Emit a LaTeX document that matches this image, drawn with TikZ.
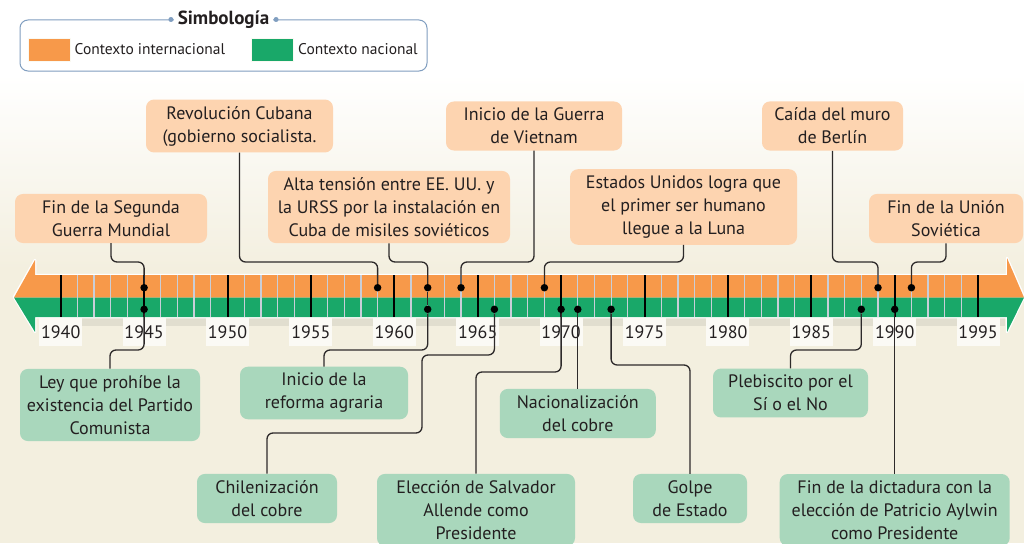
\documentclass[tikz,border=0pt]{standalone}
\usepackage{fontspec}
\setmainfont{PT Sans}
\usepackage{tikz}
\usetikzlibrary{calc,positioning}

\begin{document}
\begin{tikzpicture}[x=1pt,y=-1pt]
%% colors
\definecolor{bandorange}{RGB}{247,153,74}
\definecolor{bandgreen}{RGB}{25,168,105}
\definecolor{peach}{RGB}{253,212,176}
\definecolor{mint}{RGB}{169,215,188}
\definecolor{cream}{RGB}{243,239,223}
\definecolor{yearline}{RGB}{200,206,216}
\definecolor{legborder}{RGB}{128,158,192}
\definecolor{textcol}{RGB}{35,31,32}
\definecolor{linecol}{RGB}{45,42,42}
%% box and line styles
\tikzstyle{ibox}=[rounded corners=8pt,fill=peach,align=center,text=textcol,font=\fontsize{18}{23}\selectfont,inner xsep=5pt,inner ysep=6.5pt]
\tikzstyle{nbox}=[ibox,fill=mint]
\tikzstyle{dot}=[circle,fill=black,minimum size=7.5pt,inner sep=0pt]
\tikzstyle{conn}=[draw=linecol,line width=1.3pt,rounded corners=6pt]
\tikzstyle{ylabel}=[fill=white!70!cream,text=textcol,font=\fontsize{18}{20}\selectfont,minimum width=43pt,minimum height=28pt,inner sep=0pt]
\tikzstyle{swatch}=[minimum width=42pt,minimum height=23pt,inner sep=0pt,draw=white!60!cream]
\tikzstyle{ldot}=[circle,fill=legborder,minimum size=5pt,inner sep=0pt]

\useasboundingbox (0,0) rectangle (1024,543);
%BACKGROUND
\fill[cream] (0,0) rectangle (1024,543);
\fill[white] (0,0) rectangle (1024,75);
\shade[top color=white,bottom color=cream] (0,74) rectangle (1024,270);

%%%%%%%%%%%%%%%%%%%%%%%%%%%%%%%%%%%%%%%%%%%%%%%%%%%%%%%%%%%%%%%%%%%%%%%%
%LEGEND
\node[draw=legborder,line width=1pt,rounded corners=8pt,minimum width=407pt,minimum height=51pt] (legend) at (223.5,45.5) {};
\node[fill=white,inner xsep=4pt,inner ysep=1pt,text=textcol,font=\fontsize{19}{20}\selectfont\bfseries] (simb) at (legend.north) {Simbología};
\node[ldot,left=0pt of simb] (simbl) {};
\node[ldot,right=0pt of simb] (simbr) {};
\node[swatch,fill=bandorange] (swint) at (49,49.5) {};
\node[right=1pt of swint,text=textcol,font=\fontsize{15.5}{17}\selectfont] (txint) {Contexto internacional};
\node[swatch,fill=bandgreen] (swnac) at (272.5,49.5) {};
\node[right=1pt of swnac,text=textcol,font=\fontsize{15.5}{17}\selectfont] (txnac) {Contexto nacional};

%%%%%%%%%%%%%%%%%%%%%%%%%%%%%%%%%%%%%%%%%%%%%%%%%%%%%%%%%%%%%%%%%%%%%%%%
%TIMELINE
\fill[black,opacity=0.07] (40,317) rectangle (1005,326);
\draw[white,line width=2.5pt,line join=round] (14,297) -- (35,260) -- (35,275) -- (1007,275) -- (1007,258) -- (1024,297) -- (1007,332) -- (1007,317) -- (35,317) -- (35,332) -- cycle;
\fill[bandorange] (14,297.5) -- (35,260) -- (35,275) -- (1007,275) -- (1007,258) -- (1024,297.5) -- cycle;
\fill[bandgreen] (14,297.5) -- (35,332) -- (35,317) -- (1007,317) -- (1007,332) -- (1024,297.5) -- cycle;
% one line per year
\foreach \yr in {1941,...,1994}
  \draw[yearline,line width=1.3pt] ({60.7+16.68*(\yr-1940)},275) -- ++(0,42);
% five years
\foreach \yr in {1940,1945,...,1995}{
  \draw[black,line width=2pt] ({60.7+16.68*(\yr-1940)},275) -- ++(0,42);
  \node[ylabel] (y\yr) at ({60.7+16.68*(\yr-1940)},332) {\yr};
}

%%%%%%%%%%%%%%%%%%%%%%%%%%%%%%%%%%%%%%%%%%%%%%%%%%%%%%%%%%%%%%%%%%%%%%%%
%INTERNATIONAL
\node[ibox,minimum width=192pt] (fin45) at (111,218.5) {Fin de la Segunda\\Guerra Mundial};
\node[ibox,minimum width=187pt] (revcub) at (239.5,126) {Revolución Cubana\\(gobierno socialista.};
\node[ibox,minimum width=242pt] (misiles) at (389,207) {Alta tensión entre EE. UU. y\\la URSS por la instalación en\\Cuba de misiles soviéticos};
\node[ibox,minimum width=176pt] (vietnam) at (534,126) {Inicio de la Guerra\\de Vietnam};
\node[ibox,minimum width=227pt] (luna) at (683.5,207) {Estados Unidos logra que\\el primer ser humano\\llegue a la Luna};
\node[ibox,minimum width=141pt] (berlin) at (832.5,126) {Caída del muro\\de Berlín};
\node[ibox,minimum width=154pt] (urss) at (946,218.5) {Fin de la Unión\\Soviética};

%NATIONAL
\node[nbox,minimum width=180pt] (ley) at (110,405) {Ley que prohíbe la\\existencia del Partido\\Comunista};
\node[nbox,minimum width=168pt] (reforma) at (324,393) {Inicio de la\\reforma agraria};
\node[nbox,minimum width=140pt] (chile) at (267,498.5) {Chilenización\\del cobre};
\node[nbox,minimum width=198pt] (allende) at (476,510) {Elección de Salvador\\Allende como\\Presidente};
\node[nbox,minimum width=156pt] (nacio) at (577.8,413.5) {Nacionalización\\del cobre};
\node[nbox,minimum width=114pt] (golpe) at (690,498.5) {Golpe\\de Estado};
\node[nbox,minimum width=155pt] (pleb) at (790.5,393) {Plebiscito por el\\Sí o el No};
\node[nbox,minimum width=230pt] (dict) at (894.7,510) {Fin de la dictadura con la\\elección de Patricio Aylwin\\como Presidente};

%%%%%%%%%%%%%%%%%%%%%%%%%%%%%%%%%%%%%%%%%%%%%%%%%%%%%%%%%%%%%%%%%%%%%%%%
%DOTS
% orange band
\node[dot] (d45o) at (144.1,287.7) {};
\node[dot] (d59o) at (377.6,287.7) {};
\node[dot] (d62o) at (427.7,287.7) {};
\node[dot] (d64o) at (461.0,287.7) {};
\node[dot] (d69o) at (544.4,287.7) {};
\node[dot] (d89o) at (878.0,287.7) {};
\node[dot] (d91o) at (911.4,287.7) {};
% green band
\node[dot] (d45g) at (144.1,309.3) {};
\node[dot] (d62g) at (427.7,309.3) {};
\node[dot] (d66g) at (494.4,309.3) {};
\node[dot] (d70g) at (561.1,309.3) {};
\node[dot] (d71g) at (577.8,309.3) {};
\node[dot] (d73g) at (611.1,309.3) {};
\node[dot] (d88g) at (861.3,309.3) {};
\node[dot] (d90g) at (894.7,309.3) {};

% rails
\coordinate (railtop) at (0,262);
\coordinate (railbot) at (0,350);
\coordinate (railalle) at (0,372);
\coordinate (railgolpe) at (0,365);
\coordinate (chA) at (422,355);
\coordinate (chB) at (422,433);

%%%%%%%%%%%%%%%%%%%%%%%%%%%%%%%%%%%%%%%%%%%%%%%%%%%%%%%%%%%%%%
%CONNECTORS
% box -> orange dot
\draw[conn] (fin45) -- (fin45 |- railtop) -| (d45o);
\draw[conn] (revcub) -- (revcub |- railtop) -| (d59o);
\draw[conn] (misiles) -- (misiles |- railtop) -| (d62o);
\draw[conn] (vietnam) -- (vietnam |- railtop) -| (d64o);
\draw[conn] (luna) -- (luna |- railtop) -| (d69o);
\draw[conn] (berlin) -- (berlin |- railtop) -| (d89o);
\draw[conn] (urss) -- (urss |- railtop) -| (d91o);
\draw[conn] (d62o) -- (d62g);
% green dot -> box
\draw[conn] (d45g) -- (d45g |- railbot) -| (ley);
\draw[conn] (d62g) -- (d62g |- railbot) -| (reforma);
\draw[conn] (d66g) |- (chA) -- (chB) -| (chile);
\draw[conn] (d70g) -- (d70g |- railalle) -| (allende);
\draw[conn] (d71g) -- (nacio);
\draw[conn] (d73g) -- (d73g |- railgolpe) -| (golpe);
\draw[conn] (d88g) -- (d88g |- railbot) -| (pleb);
\draw[conn] (d90g) -- (dict);
\end{tikzpicture}
\end{document}
